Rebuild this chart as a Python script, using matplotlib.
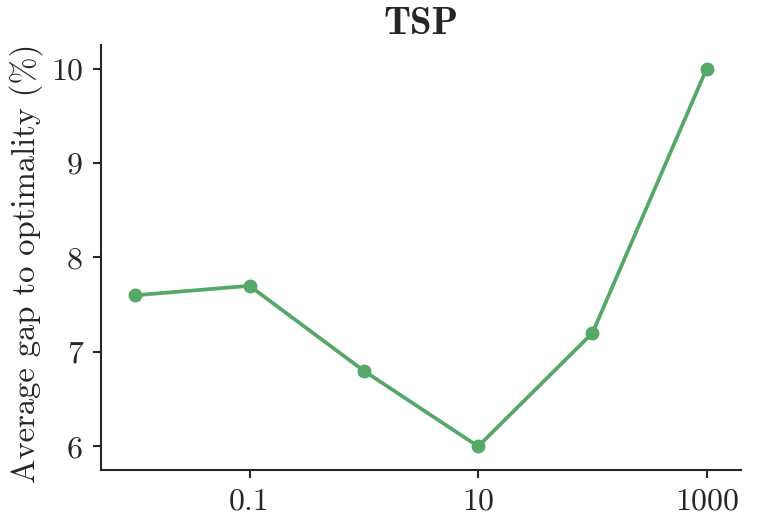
import matplotlib
matplotlib.use("Agg")
import matplotlib.pyplot as plt
from matplotlib.ticker import FixedLocator, FixedFormatter, NullLocator

# Data
weights = [0.01, 0.1, 1, 10, 100, 1000]
gaps = [7.6, 7.7, 6.8, 6.0, 7.2, 10.0]
xtick_values = [0.1, 10, 1000]
xtick_labels = ["0.1", "10", "1000"]
ytick_values = [6, 7, 8, 9, 10]
ytick_labels = ["6", "7", "8", "9", "10"]

plt.rcParams['font.family'] = ['cmr10', 'DejaVu Serif']
plt.rcParams['axes.unicode_minus'] = False
plt.rcParams['mathtext.fontset'] = 'cm'

dark = '#262626'
fig = plt.figure(figsize=(7.61, 5.30), dpi=100)
ax = fig.add_axes([0.1327, 0.1132, 0.841, 0.802])

ax.plot(weights, gaps, color='#55a868', linewidth=2.7, marker='o', markersize=9)
ax.set_xscale('log')
ax.set_xlim(10 ** -2.3, 10 ** 3.3)
ax.set_ylim(5.75, 10.25)

ax.xaxis.set_major_locator(FixedLocator(xtick_values))
ax.xaxis.set_major_formatter(FixedFormatter(xtick_labels))
ax.xaxis.set_minor_locator(NullLocator())
ax.yaxis.set_major_locator(FixedLocator(ytick_values))
ax.yaxis.set_major_formatter(FixedFormatter(ytick_labels))

for s in ['top', 'right']:
    ax.spines[s].set_visible(False)
for s in ['left', 'bottom']:
    ax.spines[s].set_linewidth(1.5)
    ax.spines[s].set_color(dark)

ax.tick_params(axis='both', which='major', direction='out', length=6, width=1.5,
               color=dark, labelcolor=dark, labelsize=23, pad=7)

ax.set_ylabel("Average gap to optimality (%)", fontsize=23.5, color=dark)
ax.yaxis.set_label_coords(-0.09, 0.485)
ax.set_title("TSP", fontsize=28, fontfamily=['cmb10', 'DejaVu Serif'], color=dark, pad=8)

fig.savefig("out.png", dpi=100)
